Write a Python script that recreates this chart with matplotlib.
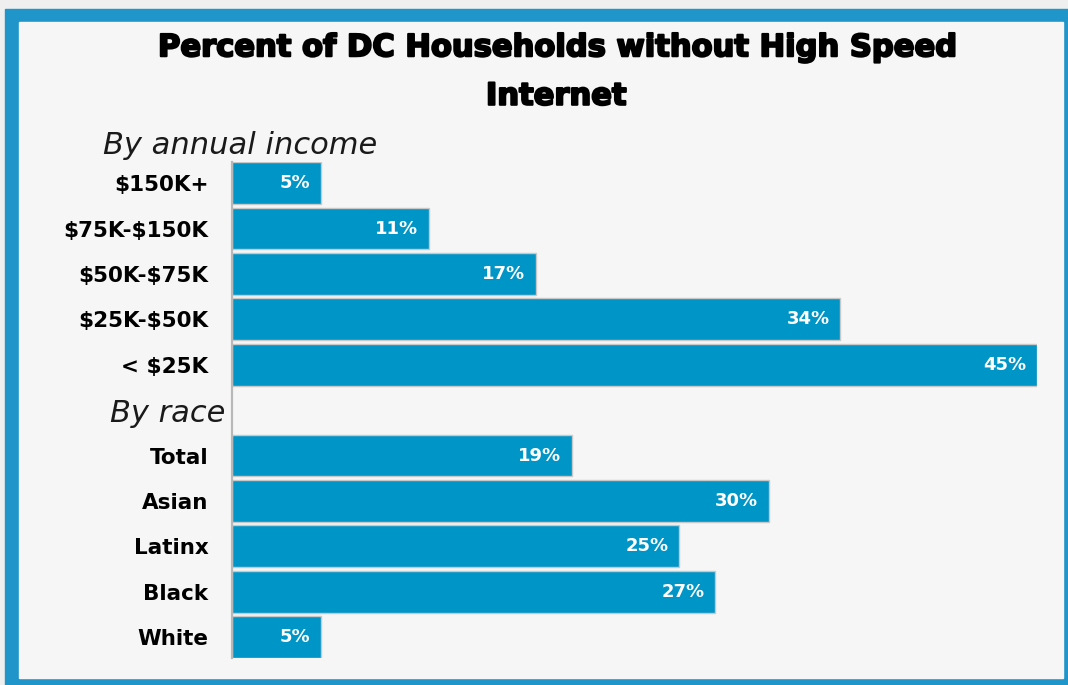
import matplotlib
matplotlib.use('Agg')
import matplotlib.pyplot as plt
import matplotlib.patheffects as pe
from matplotlib.patches import Rectangle

# Data
income_labels = ['\\$150K+', '\\$75K-\\$150K', '\\$50K-\\$75K', '\\$25K-\\$50K', '< \\$25K']
income_values = [5, 11, 17, 34, 45]
race_labels = ['Total', 'Asian', 'Latinx', 'Black', 'White']
race_values = [19, 30, 25, 27, 5]

title = 'Percent of DC Households without High Speed\nInternet'
bar_color = '#0095c7'
frame_color = '#1f95c9'

W, H = 1068, 685
plt.rcParams['font.family'] = ['DejaVu Sans']


def fx(px):
    return px / W


def fy(py):
    return (H - py) / H


def main():
    fig = plt.figure(figsize=(W / 100, H / 100), dpi=100)
    fig.patch.set_facecolor('#efefef')

    # blue frame + inner panel, kept behind the axes
    fig.patches.append(Rectangle((fx(5), 0), fx(1080) - fx(5), fy(9),
                                 transform=fig.transFigure, color=frame_color, zorder=-2))
    fig.patches.append(Rectangle((fx(19), fy(678)), fx(1063) - fx(19), fy(22) - fy(678),
                                 transform=fig.transFigure, color='#f6f6f6', zorder=-1))

    # rows: income, blank row for "By race", race
    labels = income_labels + [''] + race_labels
    values = income_values + [None] + race_values
    rows = [i for i, v in enumerate(values) if v is not None]
    vals = [v for v in values if v is not None]

    ax = fig.add_axes([fx(232), fy(658), fx(1037) - fx(232), fy(162.3) - fy(658)])
    ax.set_zorder(1)
    ax.patch.set_alpha(0)
    ax.barh(rows, vals, height=0.92, color=bar_color, edgecolor='#c8c8c8', linewidth=1)
    ax.set_xlim(0, 45)
    ax.set_ylim(len(labels) - 0.54, -0.46)

    for r, v in zip(rows, vals):
        ax.text(v - 0.6, r, '%d%%' % v, color='white', ha='right', va='center',
                fontsize=13, fontweight='bold')

    ax.set_yticks(rows)
    ax.set_yticklabels([labels[r] for r in rows], fontsize=15.5, fontweight='bold')
    ax.tick_params(axis='y', length=0, pad=17)
    ax.set_xticks([])
    for side in ['top', 'right', 'bottom']:
        ax.spines[side].set_visible(False)
    ax.spines['left'].set_color('#b8b8b8')
    ax.spines['left'].set_linewidth(1.6)

    # section headers
    fig.text(fx(103), fy(145), 'By annual income', fontsize=22, style='italic',
             ha='left', va='center', color='#1a1a1a')
    fig.text(fx(225), fy(413), 'By race', fontsize=22, style='italic',
             ha='right', va='center', color='#1a1a1a')

    fig.text(fx(556), fy(72), title, fontsize=22, fontweight='bold',
             ha='center', va='center', linespacing=1.85,
             path_effects=[pe.withStroke(linewidth=1.5, foreground='black')])

    fig.savefig('out.png', dpi=100, facecolor=fig.get_facecolor())


if __name__ == '__main__':
    main()
